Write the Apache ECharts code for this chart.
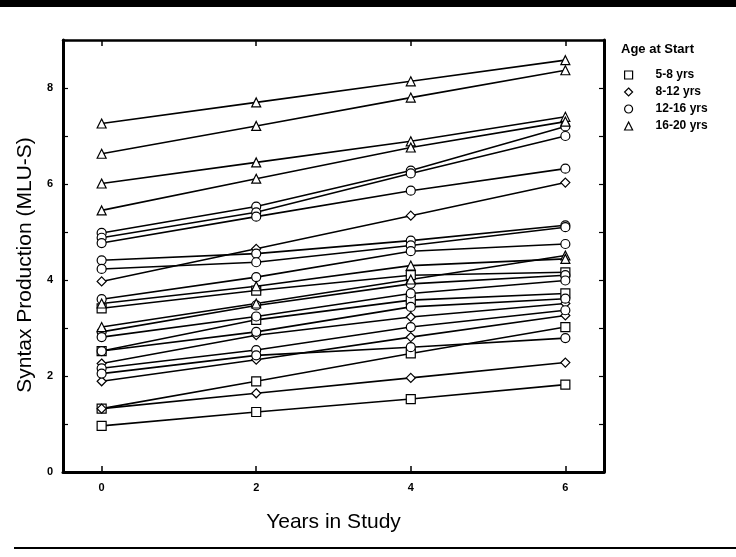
<!DOCTYPE html>
<html>
<head>
<meta charset="utf-8">
<script src="https://cdn.jsdelivr.net/npm/echarts@6/dist/echarts.min.js"></script>
<style>
  html, body { margin: 0; padding: 0; background: #fff; }
  #chart { width: 736px; height: 557px; }
</style>
</head>
<body>
<div id="chart"></div>
<script>
// years in study (x positions of every trajectory)
var years = [0, 2, 4, 6];
var xTicks = [0, 2, 4, 6];
var yTicks = [0, 2, 4, 6, 8];

// one row per child, values at years 0, 2, 4, 6
var age5to8 = [
  [0.96, 1.25, 1.52, 1.82],
  [1.32, 1.89, 2.47, 3.02],
  [3.41, 3.78, 4.10, 4.16],
  [2.52, 3.17, 3.58, 3.72]
];
var age8to12 = [
  [1.32, 1.64, 1.96, 2.28],
  [1.89, 2.34, 2.81, 3.26],
  [3.97, 4.65, 5.34, 6.03],
  [2.26, 2.85, 3.23, 3.51]
];
var age12to16 = [
  [4.98, 5.53, 6.28, 7.20],
  [4.88, 5.41, 6.22, 7.00],
  [4.77, 5.32, 5.86, 6.32],
  [4.41, 4.55, 4.82, 5.14],
  [4.23, 4.37, 4.72, 5.10],
  [3.60, 4.06, 4.60, 4.75],
  [2.92, 3.47, 3.92, 4.10],
  [2.81, 3.24, 3.72, 3.99],
  [2.52, 2.92, 3.44, 3.61],
  [2.16, 2.54, 3.02, 3.37],
  [2.05, 2.43, 2.60, 2.79]
];
var age16to20 = [
  [7.26, 7.70, 8.14, 8.58],
  [6.63, 7.21, 7.80, 8.37],
  [6.01, 6.45, 6.89, 7.40],
  [5.45, 6.11, 6.76, 7.30],
  [3.02, 3.51, 4.01, 4.51],
  [3.51, 3.87, 4.30, 4.44]
];

var groups = [
  { name: '5-8 yrs', symbol: 'rect', rows: age5to8 },
  { name: '8-12 yrs', symbol: 'diamond', rows: age8to12 },
  { name: '12-16 yrs', symbol: 'circle', rows: age12to16 },
  { name: '16-20 yrs', symbol: 'triangle', rows: age16to20 }
];

var series = [];
groups.forEach(function (g) {
  g.rows.forEach(function (row) {
    series.push({
      name: g.name,
      type: 'line',
      symbol: g.symbol,
      symbolSize: 9,
      lineStyle: { color: '#000', width: 1.6 },
      itemStyle: { color: '#fff', borderColor: '#000', borderWidth: 1.2 },
      emphasis: { disabled: true },
      data: years.map(function (x, i) { return [x, row[i]]; })
    });
  });
});

var chart = echarts.init(document.getElementById('chart'));

var tickFont = { fontFamily: 'Liberation Sans', fontWeight: 'bold', fontSize: 11, color: '#000' };

chart.setOption({
  animation: false,
  backgroundColor: '#fff',
  title: {
    text: 'Age at Start',
    left: 616,
    top: 38,
    textStyle: { fontFamily: 'Liberation Sans', fontWeight: 'bold', fontSize: 13, color: '#000' }
  },
  legend: {
    orient: 'vertical',
    left: 619,
    top: 64,
    itemGap: 5,
    itemWidth: 8,
    itemHeight: 8,
    selectedMode: false,
    textStyle: { fontFamily: 'Liberation Sans', fontWeight: 'bold', fontSize: 12, color: '#000', padding: [0, 0, 0, 18] },
    data: groups.map(function (g) {
      return {
        name: g.name,
        icon: g.symbol,
        itemStyle: { color: '#fff', borderColor: '#000', borderWidth: 1.2 }
      };
    })
  },
  grid: { left: 63, right: 132, top: 40, bottom: 85 },
  xAxis: [
    {
      type: 'value',
      min: -0.5,
      max: 6.5,
      name: 'Years in Study',
      nameLocation: 'middle',
      nameGap: 40,
      nameTextStyle: { fontFamily: 'Liberation Sans', fontSize: 21, color: '#000' },
      axisLine: { onZero: false, lineStyle: { color: '#000', width: 3 } },
      axisTick: { inside: true, length: 6, customValues: xTicks, lineStyle: { color: '#000', width: 1.5 } },
      axisLabel: { customValues: xTicks, margin: 10, textStyle: tickFont },
      splitLine: { show: false }
    },
    {
      type: 'value',
      position: 'top',
      min: -0.5,
      max: 6.5,
      axisLine: { onZero: false, lineStyle: { color: '#000', width: 2.5 } },
      axisTick: { inside: true, length: 6, customValues: xTicks, lineStyle: { color: '#000', width: 1.5 } },
      axisLabel: { show: false },
      splitLine: { show: false }
    }
  ],
  yAxis: [
    {
      type: 'value',
      min: 0,
      max: 9,
      interval: 1,
      name: 'Syntax Production (MLU-S)',
      nameLocation: 'middle',
      nameGap: 18,
      nameTextStyle: { fontFamily: 'Liberation Sans', fontSize: 21, color: '#000', padding: [0, 18, 0, 0] },
      axisLine: { onZero: false, lineStyle: { color: '#000', width: 3 } },
      axisTick: { inside: true, length: 5, lineStyle: { color: '#000', width: 1.2 } },
      axisLabel: { customValues: yTicks, margin: 10, textStyle: tickFont },
      splitLine: { show: false }
    },
    {
      type: 'value',
      position: 'right',
      min: 0,
      max: 9,
      interval: 1,
      axisLine: { onZero: false, lineStyle: { color: '#000', width: 3 } },
      axisTick: { inside: true, length: 5, lineStyle: { color: '#000', width: 1.2 } },
      axisLabel: { show: false },
      splitLine: { show: false }
    }
  ],
  graphic: [
    { type: 'rect', left: 0, top: 0, shape: { width: 736, height: 7 }, style: { fill: '#000' } },
    { type: 'rect', left: 14, top: 547, shape: { width: 722, height: 2 }, style: { fill: '#000' } }
  ],
  series: series
});
</script>
</body>
</html>
